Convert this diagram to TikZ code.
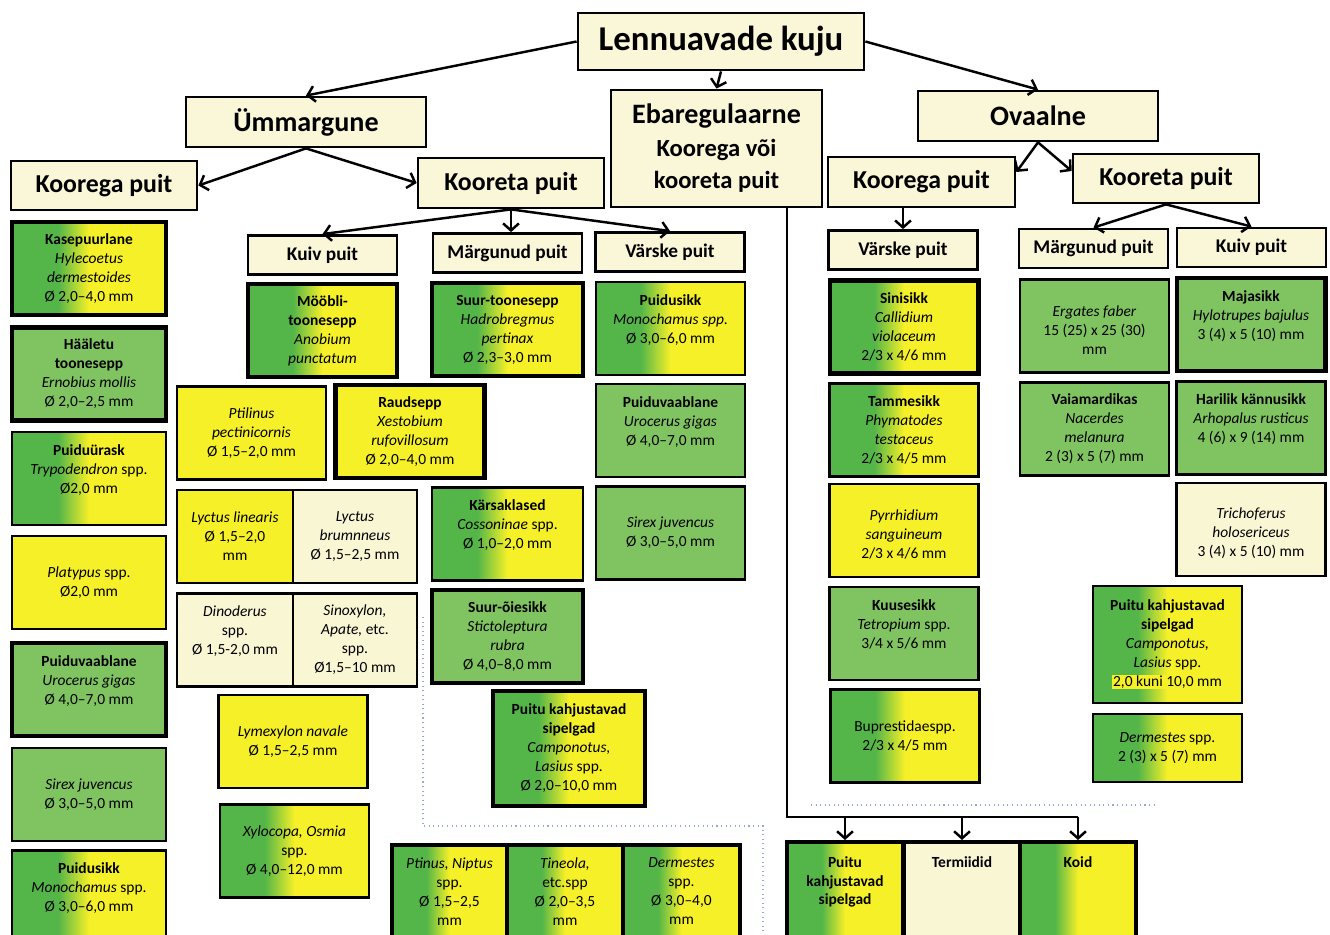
\documentclass[tikz,border=0pt]{standalone}
\usepackage{fontspec}
\setmainfont{Carlito}
\usetikzlibrary{arrows.meta,shapes}

\definecolor{cream}{RGB}{250,246,216}
\definecolor{cream2}{RGB}{249,246,212}
\definecolor{sgreen}{RGB}{84,182,72}
\definecolor{pgreen}{RGB}{128,196,98}
\definecolor{syellow}{RGB}{246,240,40}
\definecolor{dotblue}{RGB}{150,170,205}
\pgfdeclarehorizontalshading{gy}{100bp}{color(0bp)=(sgreen); color(40bp)=(sgreen); color(50bp)=(syellow); color(100bp)=(syellow)}

\begin{document}
\begin{tikzpicture}[x=0.02cm,y=-0.02cm,
  hdr/.style={draw, fill=cream, line width=1.6pt, align=center},
  lvl/.style={font=\fontsize{14.7}{17}\selectfont\bfseries},
  big/.style={font=\fontsize{16}{18}\selectfont\bfseries},
  sub/.style={hdr, minimum width=2.98cm, minimum height=0.78cm, font=\fontsize{11}{13}\selectfont\bfseries},
  sp/.style={draw, line width=1.5pt, align=center, minimum width=2.98cm, minimum height=1.86cm, inner sep=1pt, font=\fontsize{8.8}{10.8}\selectfont},
  wide/.style={minimum width=3.08cm},
  thk/.style={line width=2.3pt},
  gy/.style={shade, shading=gy},
  grn/.style={fill=pgreen},
  ylw/.style={fill=syellow},
  crm/.style={fill=cream2},
  intext/.style={anchor=north, yshift=-0.2cm, align=center, font=\fontsize{8.8}{10.8}\selectfont\bfseries},
  conn/.style={line width=1.4pt},
  arr/.style={conn, -{Straight Barb[length=4pt,width=9pt]}},
  dots/.style={dotted, dotblue, line width=0.6pt}]
\path[use as bounding box, fill=white] (0,0) rectangle (1330,935);

% dotted guide lines
\draw[dots] (423,617) -- (423,826) -- (763,826) -- (763,940);
\draw[dots] (811,805) -- (1154,805);

% headers
\node[hdr, minimum width=5.72cm, minimum height=1.14cm, font=\fontsize{19.8}{22}\selectfont\bfseries] (title) at (721,41.5) {Lennuavade kuju};
\node[hdr, big, minimum width=4.8cm, minimum height=1cm] (umm) at (306,122) {Ümmargune};
\node[hdr, minimum width=4.22cm, minimum height=2.34cm, font=\fontsize{14}{18.5}\selectfont\bfseries] (ebar) at (716.5,148.5) {{\fontsize{16}{18}\selectfont Ebaregulaarne}\\Koorega või\\kooreta puit};
\node[hdr, big, minimum width=4.8cm, minimum height=1cm] (ova) at (1038,116) {Ovaalne};
\node[hdr, lvl, minimum width=3.72cm, minimum height=0.98cm] (koorL) at (104,185.5) {Koorega puit};
\node[hdr, lvl, minimum width=3.72cm, minimum height=1cm] (kooretL) at (511,183) {Kooreta puit};
\node[hdr, lvl, minimum width=3.74cm, minimum height=1cm] (koorR) at (921.5,182) {Koorega puit};
\node[hdr, lvl, minimum width=3.72cm, minimum height=0.98cm] (kooretR) at (1166,178.5) {Kooreta puit};
\node[sub] (kuivL) at (322.5,255) {Kuiv puit};
\node[sub] (margL) at (507.5,253) {Märgunud puit};
\node[sub] (varL) at (670,252) {Värske puit};
\node[sub] (varR) at (903,250) {Värske puit};
\node[sub] (margR) at (1093.5,248.5) {Märgunud puit};
\node[sub] (kuivR) at (1251.5,247.5) {Kuiv puit};

% koorega puit, left
\node[sp, wide, thk, gy] (kase) at (89,268.5) {\textbf{Kasepuurlane}\\\textit{Hylecoetus}\\\textit{dermestoides}\\Ø 2,0–4,0 mm};
\node[sp, wide, thk, grn] (haal) at (89,374) {\textbf{Hääletu}\\\textbf{toonesepp}\\\textit{Ernobius mollis}\\Ø 2,0–2,5 mm};
\node[sp, wide, gy] (urask) at (89,478.5) {\textbf{Puiduürask}\\\textit{Trypodendron} spp.\\Ø2,0 mm\\\mbox{}};
\node[sp, wide, ylw] (platy) at (89,582.5) {\textit{Platypus} spp.\\Ø2,0 mm};
\node[sp, wide, thk, grn] (vaabL) at (89,689.5) {\textbf{Puiduvaablane}\\\textit{Urocerus gigas}\\Ø 4,0–7,0 mm\\\mbox{}};
\node[sp, wide, grn] (sirexL) at (89,794.5) {\textit{Sirex juvencus}\\Ø 3,0–5,0 mm};
\node[sp, wide, gy] (sikkL) at (89,897) {\textbf{Puidusikk}\\\textit{Monochamus} spp.\\Ø 3,0–6,0 mm\\\mbox{}};

% kuiv puit, left
\node[sp, thk, gy] (moobli) at (322.5,330.5) {\textbf{Mööbli-}\\\textbf{toonesepp}\\\textit{Anobium}\\\textit{punctatum}};
\node[sp, ylw] (ptil) at (251.5,433) {\textit{Ptilinus}\\\textit{pectinicornis}\\Ø 1,5–2,0 mm};
\node[sp, thk, ylw] (raud) at (410,431.5) {\textbf{Raudsepp}\\\textit{Xestobium}\\\textit{rufovillosum}\\Ø 2,0–4,0 mm};
\node[sp, ylw, minimum width=2.32cm] (lycl) at (235,536.5) {\textit{Lyctus linearis}\\Ø 1,5–2,0\\mm};
\node[sp, crm, minimum width=2.48cm] (lycb) at (355,536.5) {\textit{Lyctus}\\\textit{brumnneus}\\Ø 1,5–2,5 mm};
\node[sp, crm, minimum width=2.32cm] (dino) at (235,640) {\textit{Dinoderus}\\spp.\\Ø 1,5-2,0 mm\\\mbox{}};
\node[sp, crm, minimum width=2.48cm] (sinox) at (355,640) {\textit{Sinoxylon,}\\\textit{Apate,} etc.\\spp.\\Ø1,5–10 mm};
\node[sp, ylw] (lymex) at (293,741.5) {\textit{Lymexylon navale}\\Ø 1,5–2,5 mm};
\node[sp, gy] (xylo) at (294.5,851) {\textit{Xylocopa, Osmia}\\spp.\\Ø 4,0–12,0 mm};

% märgunud puit, left
\node[sp, thk, gy, minimum width=3.02cm] (suurt) at (507.5,329.5) {\textbf{Suur-toonesepp}\\\textit{Hadrobregmus}\\\textit{pertinax}\\Ø 2,3–3,0 mm};
\node[sp, gy, minimum width=3.02cm] (kars) at (507.5,534) {\textbf{Kärsaklased}\\\textit{Cossoninae} spp.\\Ø 1,0–2,0 mm\\\mbox{}};
\node[sp, thk, grn, minimum width=3.02cm] (oies) at (507.5,636.5) {\textbf{Suur-õiesikk}\\\textit{Stictoleptura}\\\textit{rubra}\\Ø 4,0–8,0 mm};
\node[sp, thk, gy, minimum width=3.04cm, minimum height=2.3cm] (sipM) at (569,748.5) {\textbf{Puitu kahjustavad}\\\textbf{sipelgad}\\\textit{Camponotus,}\\\textit{Lasius} spp.\\Ø 2,0–10,0 mm};

% värske puit, left
\node[sp, gy] (sikkM) at (670.5,328.5) {\textbf{Puidusikk}\\\textit{Monochamus spp.}\\Ø 3,0–6,0 mm\\\mbox{}};
\node[sp, grn] (vaabM) at (670.5,430.5) {\textbf{Puiduvaablane}\\\textit{Urocerus gigas}\\Ø 4,0–7,0 mm\\\mbox{}};
\node[sp, grn] (sirexM) at (670.5,533) {\textit{Sirex juvencus}\\Ø 3,0–5,0 mm};

% bottom row, middle
\node[sp, thk, gy, minimum width=2.3cm] (ptin) at (449.5,891.5) {\textit{Ptinus, Niptus}\\spp.\\Ø 1,5–2,5\\mm};
\node[sp, thk, gy, minimum width=2.32cm] (tine) at (565,891.5) {\textit{Tineola,}\\etc.spp\\Ø 2,0–3,5\\mm};
\node[sp, thk, gy, minimum width=2.34cm] (derm) at (681.5,891.5) {\textit{Dermestes}\\spp.\\Ø 3,0–4,0\\mm};

% värske puit, right
\node[sp, thk, gy] (sini) at (904,327) {\textbf{Sinisikk}\\\textit{Callidium}\\\textit{violaceum}\\2/3 x 4/6 mm};
\node[sp, gy] (tamme) at (904,430) {\textbf{Tammesikk}\\\textit{Phymatodes}\\\textit{testaceus}\\2/3 x 4/5 mm};
\node[sp, ylw] (pyrr) at (904,530.5) {\mbox{}\\\textit{Pyrrhidium}\\\textit{sanguineum}\\2/3 x 4/6 mm};
\node[sp, grn] (kuuse) at (904,633.5) {\textbf{Kuusesikk}\\\textit{Tetropium} spp.\\3/4 x 5/6 mm\\\mbox{}};
\node[sp, gy] (bupr) at (905,736) {Buprestidaespp.\\2/3 x 4/5 mm};

% märgunud puit, right
\node[sp, grn] (erg) at (1094.5,326) {\mbox{}\\\textit{Ergates faber}\\15 (25) x 25 (30)\\mm};
\node[sp, grn] (vaia) at (1094.5,429) {\textbf{Vaiamardikas}\\\textit{Nacerdes}\\\textit{melanura}\\2 (3) x 5 (7) mm};

% kuiv puit, right
\node[sp, thk, grn] (maja) at (1251,324.5) {\textbf{Majasikk}\\\textit{Hylotrupes bajulus}\\3 (4) x 5 (10) mm\\\mbox{}};
\node[sp, grn] (hari) at (1251,428) {\textbf{Harilik kännusikk}\\\textit{Arhopalus rusticus}\\4 (6) x 9 (14) mm\\\mbox{}};
\node[sp, crm] (tricho) at (1251,529.5) {\mbox{}\\\textit{Trichoferus}\\\textit{holosericeus}\\3 (4) x 5 (10) mm};
\node[sp, gy, minimum height=2.34cm] (sipR) at (1167.5,644.5) {\textbf{Puitu kahjustavad}\\\textbf{sipelgad}\\\textit{Camponotus,}\\\textit{Lasius} spp.\\{\fboxsep=0.6pt\colorbox{syellow}{2,0 kuni 10,0 mm}}};
\node[sp, gy, minimum height=1.36cm] (dermR) at (1167.5,748) {\textit{Dermestes} spp.\\2 (3) x 5 (7) mm};

% bottom row, right
\node[sp, thk, gy, minimum width=2.33cm, minimum height=2cm, label={[intext]north:{Puitu\\kahjustavad\\sipelgad}}] (puitu) at (845,892) {};
\node[sp, thk, crm, minimum width=2.33cm, minimum height=2cm, label={[intext]north:{Termiidid}}] (termi) at (962,892) {};
\node[sp, thk, gy, minimum width=2.32cm, minimum height=2cm, label={[intext]north:{Koid}}] (koid) at (1078,892) {};

% connectors
\draw[arr] (title.west) -- (umm.north);
\draw[arr] (title.south) -- (ebar.north);
\draw[arr] (title.east) -- (ova.north);
\draw[arr] (umm.south) -- (koorL.east);
\draw[arr] (umm.south) -- (kooretL.west);
\draw[arr] (kooretL.south) -- (kuivL.north);
\draw[arr] (kooretL.south) -- (kooretL.south |- margL.north);
\draw[arr] (kooretL.south) -- (varL.north);
\draw[arr] (ova.south) -- ([yshift=0.2cm]koorR.east);
\draw[arr] (ova.south) -- ([yshift=0.15cm]kooretR.west);
\draw[arr] (varR.north |- koorR.south) -- (varR.north);
\draw[arr] (kooretR.south) -- (margR.north);
\draw[arr] (kooretR.south) -- (kuivR.north);
\coordinate (bend) at (787,817);
\draw[conn] (ebar.south -| bend) -- (bend) -- (bend -| koid.north);
\foreach \c in {puitu,termi,koid}
  \draw[arr] (bend -| \c.north) -- (\c.north);
\end{tikzpicture}
\end{document}
